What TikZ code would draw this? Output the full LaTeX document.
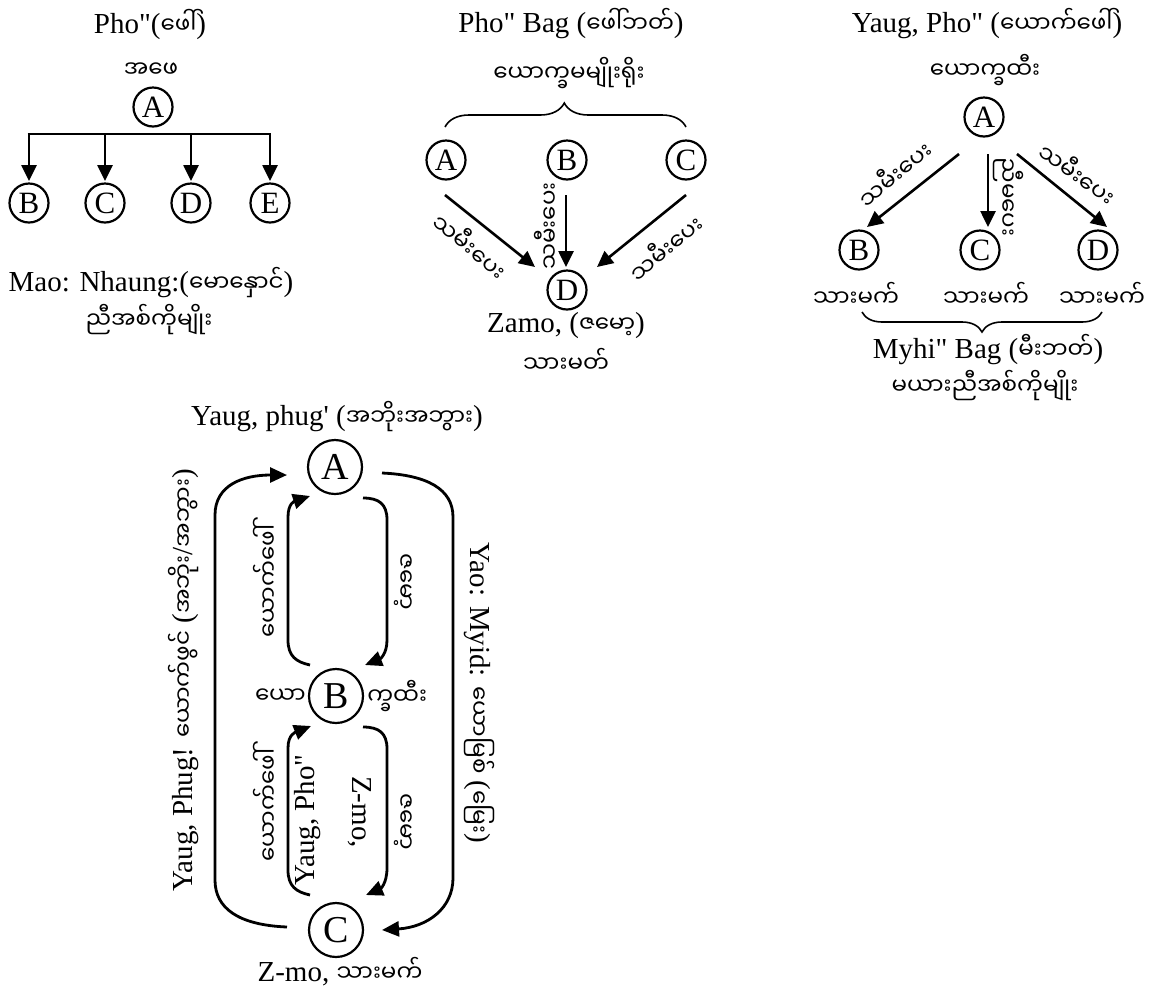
\documentclass[tikz,border=0pt]{standalone}
\usepackage{fontspec}
\newfontfamily\tnr{Liberation Serif}
\newfontfamily\myfnt[Script=Myanmar]{Noto Sans Myanmar UI}
\newcommand{\myr}[1]{{\myfnt\fontsize{23}{28}\selectfont #1}}
\usetikzlibrary{arrows.meta,decorations.pathreplacing,calc}
\begin{document}
\begin{tikzpicture}[x=1pt,y=-1pt,
  lat/.style={font=\tnr\fontsize{29}{34}\selectfont, inner sep=0pt},
  bur/.style={font=\myfnt\fontsize{23}{28}\selectfont, inner sep=0pt},
  circ/.style={circle, draw, line width=2.2pt, minimum size=39pt, inner sep=0pt, font=\tnr\fontsize{31}{31}\selectfont},
  bigc/.style={circ, minimum size=54pt, font=\tnr\fontsize{38}{38}\selectfont},
  arr/.style={line width=2.6pt, -{Triangle[length=16pt,width=15pt]}},
  arrb/.style={line width=2.8pt, -{Triangle[length=17pt,width=15pt]}},
  ln/.style={line width=2.6pt},
  brc/.style={line width=1.6pt, decorate},
]
\useasboundingbox (0,0) rectangle (1156,989);
\fill[white] (0,0) rectangle (1156,989);

% ---------- Diagram 1 ----------
\node[lat] (t1) at (150,24) {Pho"(\myr{ဖေါ်})};
\node[bur] (f1) at (151,70) {အဖေ};
\node[circ] (A1) at (153,107) {A};
\node[circ] (B1) at (29,203) {B};
\node[circ] (C1) at (105,203) {C};
\node[circ] (D1) at (191,203) {D};
\node[circ] (E1) at (270,203) {E};
\coordinate (bar) at ($(A1)+(0,27)$);
\draw[ln] ($(B1 |- bar)+(-1.3,0)$) -- ($(E1 |- bar)+(1.3,0)$);
\foreach \n in {B1,C1,D1,E1} {\draw[arr] (\n |- bar) -- ($(\n)+(0,-22)$);}
\node[lat] (m1) at (151,283) {Mao: Nhaung:(\myr{မောနှောင်})};
\node[bur] (m2) at (149,320) {ညီအစ်ကိုမျိုး};

% ---------- Diagram 2 ----------
\node[lat] (t2) at (571,24) {Pho" Bag (\myr{ဖေါ်ဘတ်})};
\node[bur] (y2) at (569,73) {ယောက္ခမမျိုးရိုး};
\node[circ] (A2) at (446,160) {A};
\node[circ] (B2) at (567,160) {B};
\node[circ] (C2) at (686,160) {C};
\node[circ] (D2) at (567,290) {D};
\draw[brc, decoration={brace, amplitude=24pt, aspect=0.495}] (445,127) -- (686,127);
\draw[arr] ($(A2)+(-1,35)$) -- ($(D2)+(-32,-23)$);
\draw[arr] ($(B2)+(-1,35)$) -- ($(D2)+(-1,-23)$);
\draw[arr] ($(C2)+(0,35)$) -- ($(D2)+(30,-23)$);
\node[bur, rotate=-40] (l21) at (471,245) {သမီးပေး};
\node[bur, rotate=90] (l22) at (546,226) {သမီးပေး};
\node[bur, rotate=40] (l23) at (665,247) {သမီးပေး};
\node[lat] (z2) at (566,326) {Zamo, (\myr{ဇမော့})};
\node[bur] (s2) at (566,360) {သားမတ်};

% ---------- Diagram 3 ----------
\node[lat] (t3) at (987,24) {Yaug, Pho" (\myr{ယောက်ဖေါ်})};
\node[bur] (y3) at (985,70) {ယောက္ခထီး};
\node[circ] (A3) at (984,117) {A};
\node[circ] (B3) at (859,250) {B};
\node[circ] (C3) at (980,250) {C};
\node[circ] (D3) at (1098,250) {D};
\draw[arr] ($(A3)+(-25,37)$) -- ($(B3)+(8,-23)$);
\draw[arr] ($(A3)+(4,37)$) -- ($(C3)+(8,-23)$);
\draw[arr] ($(A3)+(33,37)$) -- ($(D3)+(9,-23)$);
\node[bur, rotate=40] (l31) at (894,173) {သမီးပေး};
\node[bur, rotate=-90] (l32) at (1008,197) {ညီမပေး};
\node[bur, rotate=-35] (l33) at (1078,173) {သမီးပေး};
\node[bur] (s31) at (856,294) {သားမက်};
\node[bur] (s32) at (986,294) {သားမက်};
\node[bur] (s33) at (1102,294) {သားမက်};
\draw[brc, decoration={brace, amplitude=20pt, aspect=0.5}] (1102,312) -- (862,312);
\node[lat] (h3) at (988,350) {Myhi" Bag (\myr{မီးဘတ်})};
\node[bur] (h4) at (985,386) {မယားညီအစ်ကိုမျိုး};

% ---------- Diagram 4 ----------
\node[lat] (t4) at (337,417) {Yaug, phug' (\myr{အဘိုးအဘွား})};
\node[bigc] (A4) at (335,467) {A};
\node[bigc] (B4) at (336,696) {B};
\node[bigc] (C4) at (336,930) {C};
\node[bur, anchor=east] (bl) at ($(B4.west)+(-2,0)$) {ယော};
\node[bur, anchor=west] (br) at ($(B4.east)+(3,0)$) {က္ခထီး};
% outer left: C -> A
\draw[arrb] ($(C4)+(-49,-3)$) .. controls ($(C4)+(-98,-5)$) and ($(C4)+(-121,-22)$) .. ($(C4)+(-121,-50)$)
  -- ($(A4)+(-120,48)$) .. controls ($(A4)+(-120,18)$) and ($(A4)+(-92,8)$) .. ($(A4)+(-48,8)$);
% outer right: A -> C
\draw[arrb] ($(A4)+(47,6)$) .. controls ($(A4)+(92,8)$) and ($(A4)+(118,22)$) .. ($(A4)+(118,50)$)
  -- ($(C4)+(117,-52)$) .. controls ($(C4)+(117,-22)$) and ($(C4)+(92,-3)$) .. ($(C4)+(46,0)$);
% inner A-B
\draw[arrb] ($(B4)+(-26,-31)$) .. controls ($(B4)+(-40,-34)$) and ($(B4)+(-48,-40)$) .. ($(B4)+(-48,-56)$)
  -- ($(A4)+(-47,50)$) .. controls ($(A4)+(-47,36)$) and ($(A4)+(-40,34)$) .. ($(A4)+(-25,29)$);
\draw[arrb] ($(A4)+(28,31)$) .. controls ($(A4)+(44,31)$) and ($(A4)+(52,37)$) .. ($(A4)+(52,53)$)
  -- ($(B4)+(51,-56)$) .. controls ($(B4)+(51,-42)$) and ($(B4)+(44,-37)$) .. ($(B4)+(29,-31)$);
% inner B-C
\draw[arrb] ($(C4)+(-26,-35)$) .. controls ($(C4)+(-40,-38)$) and ($(C4)+(-48,-44)$) .. ($(C4)+(-48,-60)$)
  -- ($(B4)+(-48,52)$) .. controls ($(B4)+(-48,38)$) and ($(B4)+(-40,36)$) .. ($(B4)+(-25,30)$);
\draw[arrb] ($(B4)+(27,31)$) .. controls ($(B4)+(43,31)$) and ($(B4)+(51,37)$) .. ($(B4)+(51,53)$)
  -- ($(C4)+(51,-62)$) .. controls ($(C4)+(51,-46)$) and ($(C4)+(44,-41)$) .. ($(C4)+(30,-35)$);
\node[bur, rotate=90] (i1) at (265,581) {ယောက်ဖေါ်};
\node[bur, rotate=-90] (i2) at (403,582) {ဇမော့};
\node[bur, rotate=90] (i3) at (265,805) {ယောက်ဖေါ်};
\node[lat, rotate=90] (i4) at (308,820) {Yaug, Pho"};
\node[lat, rotate=-90] (i5) at (360,812) {Z-mo,};
\node[bur, rotate=-90] (i6) at (403,822) {ဇမော့};
\node[lat, rotate=90] (ol) at (184,680) {Yaug, Phug! \myr{ယောက်ဖွင်} (\myr{အဘိုး}/\myr{အဘွား})};
\node[lat, rotate=-90] (or) at (479,693) {Yao: Myid: \myr{ယောမြစ်} (\myr{မြေး})};
\node[lat] (bt) at (340,972) {Z-mo, \myr{သားမက်}};
\end{tikzpicture}
\end{document}
